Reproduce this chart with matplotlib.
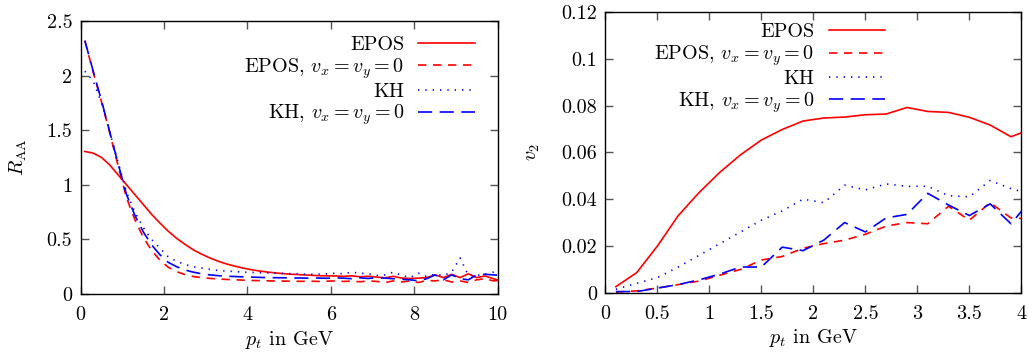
#!/usr/bin/env python3

import matplotlib
matplotlib.use('Agg')
import matplotlib.pyplot as plt
import matplotlib.ticker as mtick
import numpy as np

# R_AA and v2 versus p_t, EPOS vs KH, with and without transverse flow.

plt.rcParams['font.family'] = ['cmr10', 'DejaVu Serif']
plt.rcParams['mathtext.fontset'] = 'cm'
plt.rcParams['axes.formatter.use_mathtext'] = True
plt.rcParams['font.size'] = 14.5

# ---- left panel: R_AA ----
pt_raa = [0.1, 0.3, 0.5, 0.7, 0.9, 1.1, 1.3, 1.5, 1.7, 1.9,
          2.1, 2.3, 2.5, 2.7, 2.9, 3.1, 3.3, 3.5, 3.7, 3.9,
          4.1, 4.3, 4.5, 4.7, 4.9, 5.1, 5.3, 5.5, 5.7, 5.9,
          6.1, 6.3, 6.5, 6.7, 6.9, 7.1, 7.3, 7.5, 7.7, 7.9,
          8.1, 8.3, 8.5, 8.7, 8.9, 9.1, 9.3, 9.5, 9.7, 9.9, 10.1]

raa_epos = [1.305, 1.29, 1.25, 1.18, 1.09, 1.00, 0.91, 0.82, 0.73, 0.65,
            0.575, 0.51, 0.455, 0.405, 0.365, 0.33, 0.30, 0.275, 0.255, 0.237,
            0.222, 0.21, 0.20, 0.192, 0.185, 0.18, 0.176, 0.172, 0.168, 0.166,
            0.165, 0.162, 0.166, 0.158, 0.162, 0.155, 0.148, 0.162, 0.145, 0.142,
            0.145, 0.15, 0.175, 0.15, 0.18, 0.15, 0.185, 0.15, 0.165, 0.14, 0.115]

raa_epos_v0 = [2.32, 2.03, 1.76, 1.47, 1.17, 0.88, 0.68, 0.52, 0.40, 0.31,
               0.245, 0.205, 0.178, 0.16, 0.15, 0.143, 0.138, 0.133, 0.13, 0.127,
               0.124, 0.122, 0.12, 0.119, 0.118, 0.117, 0.116, 0.118, 0.115, 0.117,
               0.12, 0.115, 0.118, 0.112, 0.12, 0.115, 0.105, 0.12, 0.11, 0.12,
               0.105, 0.125, 0.12, 0.13, 0.11, 0.12, 0.105, 0.13, 0.14, 0.12, 0.125]

raa_kh = [2.04, 1.95, 1.75, 1.48, 1.20, 0.93, 0.75, 0.61, 0.50, 0.42,
          0.34, 0.30, 0.27, 0.25, 0.237, 0.225, 0.215, 0.21, 0.205, 0.20,
          0.198, 0.195, 0.193, 0.19, 0.188, 0.185, 0.183, 0.18, 0.182, 0.185,
          0.19, 0.185, 0.20, 0.19, 0.185, 0.17, 0.175, 0.20, 0.17, 0.15,
          0.19, 0.16, 0.18, 0.17, 0.20, 0.33, 0.17, 0.17, 0.18, 0.20, 0.21]

raa_kh_v0 = [2.32, 2.04, 1.77, 1.48, 1.19, 0.91, 0.72, 0.57, 0.45, 0.36,
             0.29, 0.25, 0.22, 0.20, 0.185, 0.175, 0.168, 0.163, 0.16, 0.157,
             0.155, 0.152, 0.15, 0.149, 0.148, 0.147, 0.146, 0.145, 0.146, 0.144,
             0.148, 0.145, 0.14, 0.148, 0.142, 0.15, 0.145, 0.14, 0.135, 0.13,
             0.12, 0.14, 0.175, 0.13, 0.175, 0.14, 0.13, 0.175, 0.18, 0.175, 0.17]

# ---- right panel: v2 ----
pt_v2 = [0.1, 0.3, 0.5, 0.7, 0.9, 1.1, 1.3, 1.5, 1.7, 1.9, 2.1,
         2.3, 2.5, 2.7, 2.9, 3.1, 3.3, 3.5, 3.7, 3.9, 4.1]

v2_epos = [0.0026, 0.0086, 0.020, 0.033, 0.0428, 0.0515, 0.059, 0.0653, 0.0698, 0.0734, 0.0747,
           0.0751, 0.0761, 0.0764, 0.0792, 0.0775, 0.0771, 0.0750, 0.0717, 0.0667, 0.070]

v2_epos_v0 = [0.0003, 0.0008, 0.002, 0.0035, 0.005, 0.0075, 0.010, 0.014, 0.0155, 0.019, 0.021,
              0.0225, 0.025, 0.0285, 0.030, 0.0295, 0.037, 0.031, 0.0385, 0.032, 0.0315]

v2_kh = [0.0015, 0.004, 0.0065, 0.011, 0.016, 0.021, 0.026, 0.031, 0.035, 0.040, 0.0385,
         0.046, 0.044, 0.0465, 0.0455, 0.0455, 0.0415, 0.041, 0.048, 0.0445, 0.042]

v2_kh_v0 = [0.0005, 0.0005, 0.002, 0.0035, 0.0055, 0.008, 0.011, 0.011, 0.0195, 0.018, 0.0225,
            0.030, 0.026, 0.032, 0.0335, 0.0425, 0.0375, 0.033, 0.038, 0.0295, 0.040]

labels = ['EPOS', r'EPOS, $v_x = v_y = 0$', 'KH', r'KH, $v_x = v_y = 0$']
colors = ['#ff0000', '#ff0000', '#0000ff', '#0000ff']
dashes = [None, (5, 4), (0.8, 3.6), (8.5, 4.5)]
LW = 1.2


def gp_plot(ax, x, ys):
    for y, lbl, c, d in zip(ys, labels, colors, dashes):
        kw = dict(color=c, lw=LW, label=lbl)
        if d is not None:
            kw['dashes'] = d
        ax.plot(x, y, **kw)


def gp_axes(ax):
    ax.tick_params(which='both', direction='in', top=True, right=True,
                   length=6, width=1, color='#555555')
    ax.tick_params(axis='x', pad=9)
    ax.tick_params(axis='y', pad=6)
    for s in ax.spines.values():
        s.set_linewidth(1.0)
    ax.xaxis.set_major_formatter(mtick.FormatStrFormatter('%g'))
    ax.yaxis.set_major_formatter(mtick.FormatStrFormatter('%g'))


def gp_legend(ax, anchor):
    ax.legend(loc='upper right', bbox_to_anchor=anchor, frameon=False,
              markerfirst=False, handlelength=2.8, handletextpad=0.7,
              labelspacing=0.1, borderpad=0, borderaxespad=0)


fig = plt.figure(figsize=(10.28, 3.54), dpi=100)

ax1 = fig.add_axes([0.0785, 0.1695, 0.4055, 0.7712])
gp_plot(ax1, pt_raa, [raa_epos, raa_epos_v0, raa_kh, raa_kh_v0])
ax1.set_xlim(0, 10)
ax1.set_ylim(0, 2.5)
ax1.set_xticks([0, 2, 4, 6, 8, 10])
ax1.set_yticks([0, 0.5, 1, 1.5, 2, 2.5])
gp_axes(ax1)
ax1.set_xlabel(r'$p_t$ in GeV', labelpad=3)
ax1.set_ylabel(r'$R_{\mathrm{AA}}$', labelpad=13)
gp_legend(ax1, (0.9455, 0.945))

ax2 = fig.add_axes([0.589, 0.173, 0.4045, 0.793])
gp_plot(ax2, pt_v2, [v2_epos, v2_epos_v0, v2_kh, v2_kh_v0])
ax2.set_xlim(0, 4)
ax2.set_ylim(0, 0.12)
ax2.set_xticks([0, 0.5, 1, 1.5, 2, 2.5, 3, 3.5, 4])
ax2.set_yticks([0, 0.02, 0.04, 0.06, 0.08, 0.1, 0.12])
gp_axes(ax2)
ax2.set_xlabel(r'$p_t$ in GeV', labelpad=3)
ax2.set_ylabel(r'$v_2$', labelpad=14)
gp_legend(ax2, (0.672, 0.96))

plt.savefig('out.png', dpi=100)
